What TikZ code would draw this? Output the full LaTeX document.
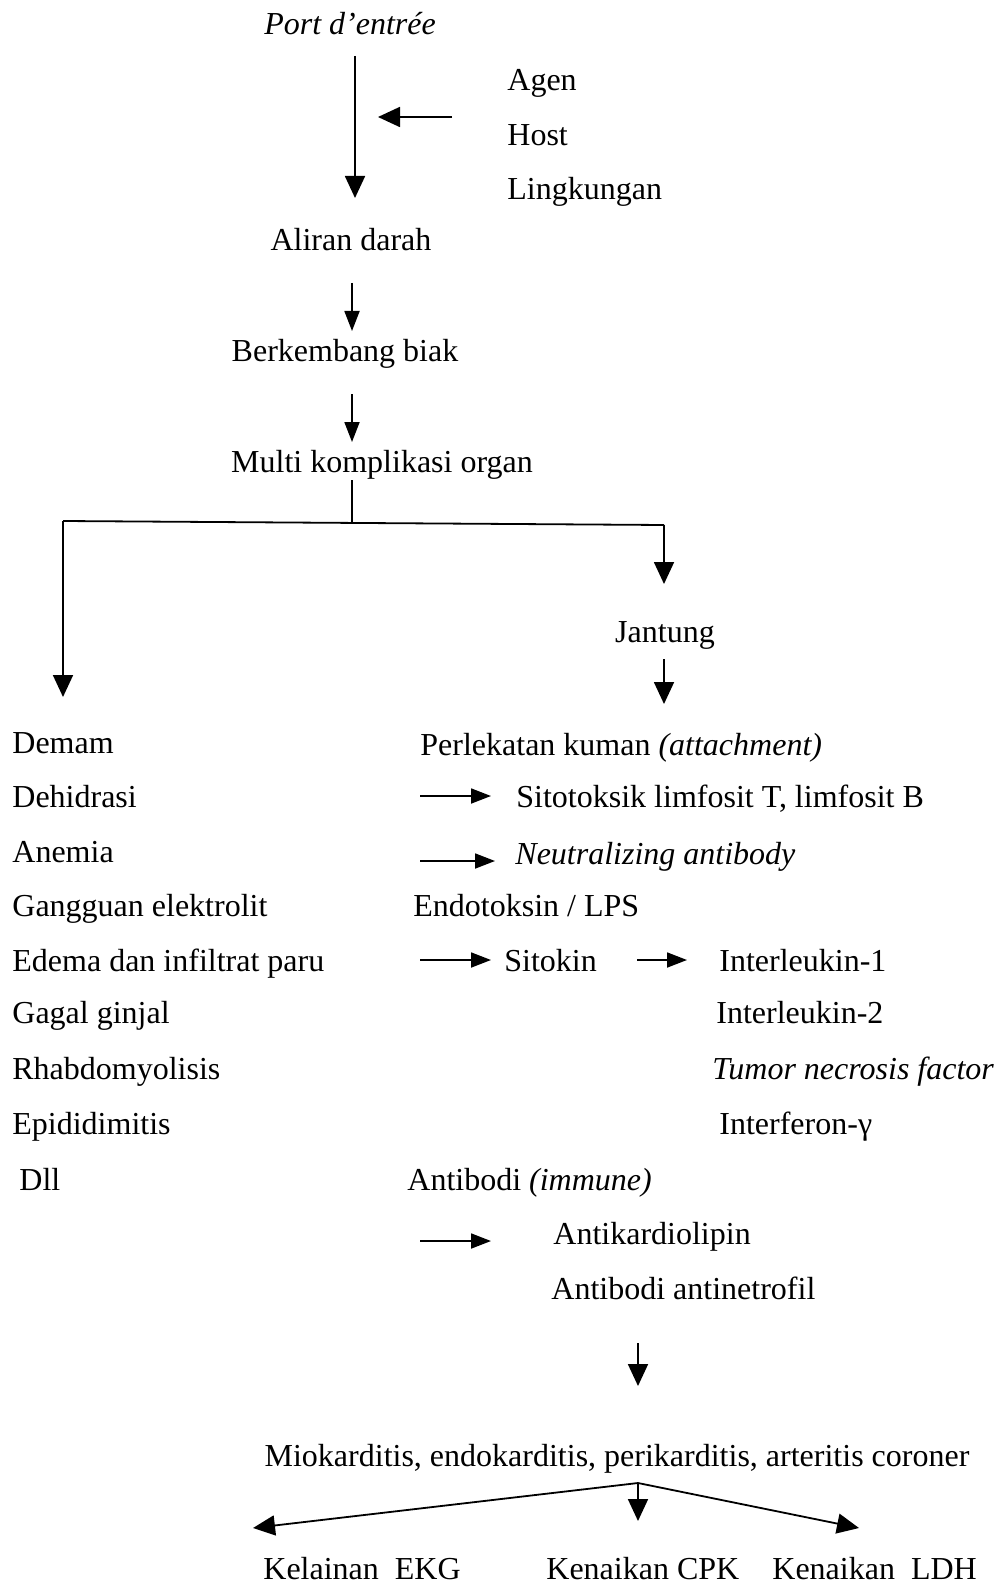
\documentclass[tikz,border=0pt]{standalone}
\usepackage{fontspec}
\setmainfont{Liberation Serif}
\usetikzlibrary{arrows.meta}
\begin{document}
\begin{tikzpicture}[x=0.5pt,y=-0.5pt,
  txt/.style={font=\fontsize{16}{19}\selectfont, inner sep=0pt, anchor=base west},
  ctxt/.style={font=\fontsize{16}{19}\selectfont, inner sep=0pt, anchor=base},
  arr/.style={line width=0.9pt, -{Triangle[length=11pt,width=10pt]}},
  sarr/.style={line width=0.9pt, -{Triangle[length=10pt,width=7.5pt]}},
  ln/.style={line width=0.9pt}]
\useasboundingbox (0,0) rectangle (1003,1583);
\fill[white] (0,0) rectangle (1003,1583);

% top chain
\node[ctxt] (port) at (350,35) {\textit{Port d’entrée}};
\node[txt] (agen) at (507,91) {Agen};
\node[txt] (host) at (507,146) {Host};
\node[txt] (ling) at (507,200) {Lingkungan};
\node[ctxt] (aliran) at (351,251) {Aliran darah};
\node[ctxt] (biak) at (345,362) {Berkembang biak};
\node[ctxt] (multi) at (382,472) {Multi komplikasi organ};
\node[ctxt] (jantung) at (665,642) {Jantung};

\coordinate (p1) at (355,56);
\coordinate (p2) at (355,198);
\draw[arr] (p1) -- (p2);
\coordinate (h1) at (452,117);
\coordinate (h2) at (378,117);
\draw[arr] (h1) -- (h2);

\coordinate (b1) at (352,283);
\coordinate (b2) at (352,331);
\draw[sarr] (b1) -- (b2);
\coordinate (c1) at (352,394);
\coordinate (c2) at (352,442);
\draw[sarr] (c1) -- (c2);

% branch
\coordinate (m1) at (352,480);
\coordinate (m2) at (352,523);
\coordinate (lb) at (63,521);
\coordinate (rb) at (664,525);
\coordinate (lt) at (63,697);
\coordinate (rt) at (664,584);
\draw[ln] (m1) -- (m2);
\draw[ln] (lb) -- (rb);
\draw[arr] (lb) -- (lt);
\draw[arr] (rb) -- (rt);
\coordinate (j1) at (664,659);
\coordinate (j2) at (664,704);
\draw[arr] (j1) -- (j2);

% left list
\node[txt] (l1) at (12,753) {Demam};
\node[txt] (l2) at (12,807) {Dehidrasi};
\node[txt] (l3) at (12,862) {Anemia};
\node[txt] (l4) at (12,916) {Gangguan elektrolit};
\node[txt] (l5) at (12,971) {Edema dan infiltrat paru};
\node[txt] (l6) at (12,1023) {Gagal ginjal};
\node[txt] (l7) at (12,1079) {Rhabdomyolisis};
\node[txt] (l8) at (12,1134) {Epididimitis};
\node[txt] (l9) at (19,1190) {Dll};

% right column
\node[txt] (r1) at (420,755) {Perlekatan kuman \textit{(attachment)}};
\node[txt] (r2) at (516,807) {Sitotoksik limfosit T, limfosit B};
\node[txt] (r3) at (515,864) {\textit{Neutralizing antibody}};
\node[txt] (r4) at (413,916) {Endotoksin / LPS};
\node[txt] (r5) at (504,971) {Sitokin};
\node[txt] (r6) at (719,971) {Interleukin-1};
\node[txt] (r7) at (716,1023) {Interleukin-2};
\node[txt] (r8) at (712,1079) {\textit{Tumor necrosis factor}};
\node[txt] (r9) at (719,1134) {Interferon-γ};
\node[txt] (r10) at (407,1190) {Antibodi \textit{(immune)}};
\node[txt] (r11) at (553,1244) {Antikardiolipin};
\node[txt] (r12) at (551,1299) {Antibodi antinetrofil};

\coordinate (s1a) at (420,796);
\coordinate (s1b) at (491,796);
\draw[sarr] (s1a) -- (s1b);
\coordinate (s2a) at (420,861);
\coordinate (s2b) at (495,861);
\draw[sarr] (s2a) -- (s2b);
\coordinate (s3a) at (420,960);
\coordinate (s3b) at (491,960);
\draw[sarr] (s3a) -- (s3b);
\coordinate (s4a) at (637,960);
\coordinate (s4b) at (687,960);
\draw[sarr] (s4a) -- (s4b);
\coordinate (s5a) at (420,1241);
\coordinate (s5b) at (491,1241);
\draw[sarr] (s5a) -- (s5b);

\coordinate (d1) at (638,1343);
\coordinate (d2) at (638,1386);
\draw[arr] (d1) -- (d2);

% bottom
\node[ctxt] (mio) at (617,1466) {Miokarditis, endokarditis, perikarditis, arteritis coroner};
\coordinate (apex) at (638,1483);
\coordinate (tl) at (253,1528);
\coordinate (tm) at (638,1521);
\coordinate (tr) at (859,1528);
\draw[arr] (apex) -- (tl);
\draw[arr] (apex) -- (tm);
\draw[arr] (apex) -- (tr);
\node[txt] (k1) at (263,1579) {Kelainan\ \ EKG};
\node[txt] (k2) at (546,1579) {Kenaikan CPK};
\node[txt] (k3) at (772,1579) {Kenaikan\ \ LDH};
\end{tikzpicture}
\end{document}
